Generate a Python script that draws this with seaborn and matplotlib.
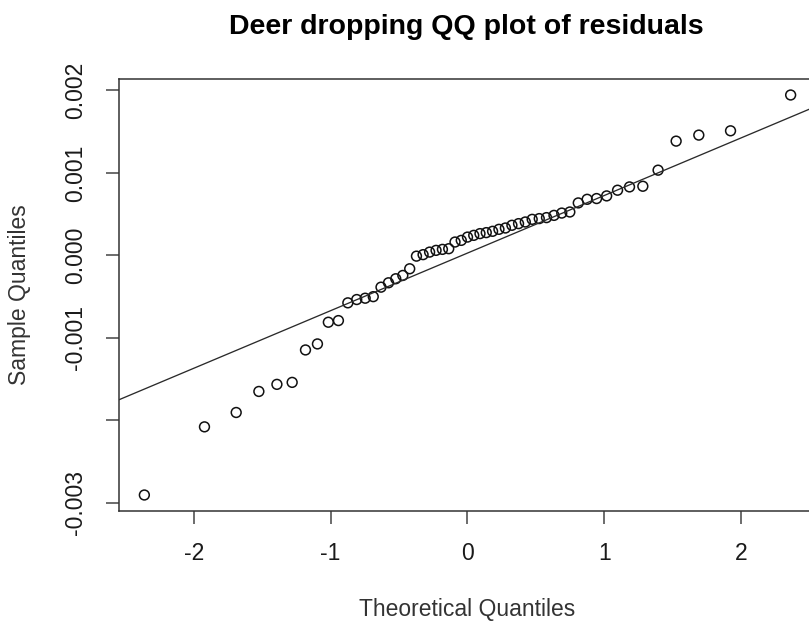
import matplotlib
matplotlib.use("Agg")
import matplotlib.pyplot as plt
import numpy as np
import pandas as pd
import seaborn as sns
from statistics import NormalDist

# Model residuals (deer dropping counts), sorted, in units of 1e-3
residuals_e3 = [
    -2.904, -2.078, -1.904, -1.649, -1.563, -1.539, -1.146, -1.073, -0.810, -0.790,
    -0.575, -0.535, -0.519, -0.500, -0.385, -0.332, -0.283, -0.243, -0.162, -0.009,
    0.009, 0.040, 0.061, 0.073, 0.081, 0.162, 0.182, 0.222, 0.243, 0.264,
    0.276, 0.292, 0.316, 0.332, 0.365, 0.385, 0.405, 0.437, 0.446, 0.458,
    0.485, 0.513, 0.526, 0.636, 0.680, 0.689, 0.721, 0.790, 0.830, 0.838,
    1.033, 1.385, 1.458, 1.510, 1.944,
]
x_ticks = [-2, -1, 0, 1, 2]
y_ticks = [-0.003, -0.002, -0.001, 0.000, 0.001, 0.002]
y_tick_labels = ["-0.003", "", "-0.001", "0.000", "0.001", "0.002"]

title = "Deer dropping QQ plot of residuals"
x_label = "Theoretical Quantiles"
y_label = "Sample Quantiles"

# Sample and theoretical quantiles (plotting positions as in R's ppoints)
sample = np.sort(np.array(residuals_e3) * 1e-3)
n = len(sample)
a = 3 / 8 if n <= 10 else 0.5
probs = (np.arange(1, n + 1) - a) / (n + 1 - 2 * a)
std_normal = NormalDist()
theoretical = np.array([std_normal.inv_cdf(p) for p in probs])
df = pd.DataFrame({"theoretical": theoretical, "sample": sample})

# Reference line through the first and third quartiles
q1, q3 = np.quantile(sample, [0.25, 0.75])
z1, z3 = std_normal.inv_cdf(0.25), std_normal.inv_cdf(0.75)
slope = (q3 - q1) / (z3 - z1)
intercept = q1 - slope * z1

sns.set_style("ticks")
plt.rcParams["font.family"] = ["Liberation Sans", "DejaVu Sans"]

fig = plt.figure(figsize=(8.09, 6.30), dpi=100)
ax = fig.add_axes([118.5 / 809, 119 / 630, 698 / 809, 432 / 630])

sns.scatterplot(
    data=df, x="theoretical", y="sample", ax=ax,
    marker="o", s=50, facecolor="none", edgecolor="#111111", linewidth=1.1,
    legend=False,
)
ax.margins(x=0.04, y=0.04)
ax.axline((0, intercept), slope=slope, color="#2a2a2a", linewidth=0.95)

ax.set_xticks(x_ticks)
ax.set_xticklabels([str(t) for t in x_ticks])
ax.set_yticks(y_ticks)
ax.set_yticklabels(y_tick_labels, rotation=90, va="center")

text_color = "#1a1a1a"
ax.tick_params(axis="both", direction="out", length=9.4, width=1.1,
               color="#444444", labelsize=16.5, labelcolor=text_color)
ax.tick_params(axis="x", pad=13)
ax.tick_params(axis="y", pad=13)

for side in ["left", "right", "top", "bottom"]:
    ax.spines[side].set_visible(True)
    ax.spines[side].set_color("#333333")
    ax.spines[side].set_linewidth(1.1)

ax.set_xlabel(x_label, fontsize=16.5, color="#333333", labelpad=24)
ax.set_ylabel(y_label, fontsize=16.5, color="#333333", labelpad=24)
fig.text(466 / 809, 1 - 27 / 630, title, ha="center", va="center",
         fontsize=20.5, fontweight="bold", color="#000000")

fig.savefig("out.png", dpi=100, facecolor="white")
